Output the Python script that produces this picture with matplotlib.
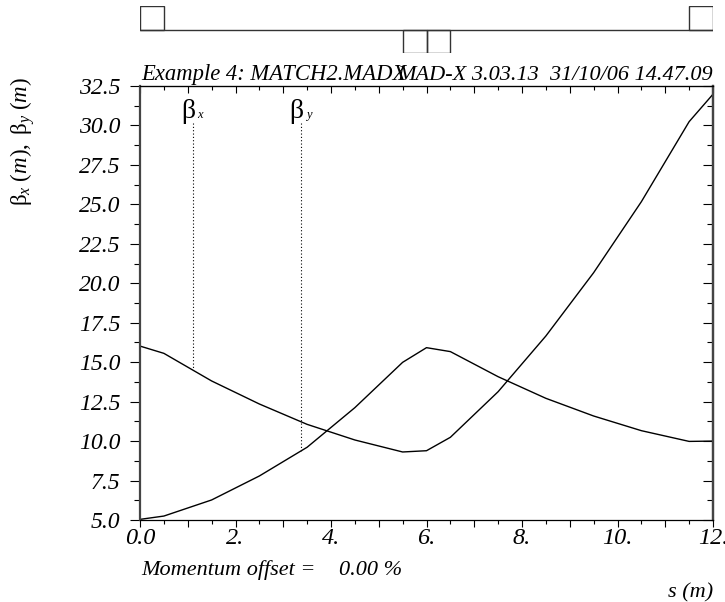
import matplotlib
matplotlib.use("Agg")
import matplotlib.pyplot as plt
import numpy as np
from matplotlib.patches import Rectangle
from matplotlib.ticker import MultipleLocator

plt.rcParams['font.family'] = 'Liberation Serif'
plt.rcParams['font.style'] = 'italic'
plt.rcParams['mathtext.fontset'] = 'custom'
plt.rcParams['mathtext.rm'] = 'Liberation Serif:roman'
plt.rcParams['mathtext.it'] = 'Liberation Serif:italic'

# twiss output at element ends
s = [0.0, 0.5, 1.5, 2.5, 3.5, 4.5, 5.5, 6.0, 6.5, 7.5, 8.5, 9.5, 10.5, 11.5, 12.0]
betx = [16.02, 15.56, 13.81, 12.35, 11.06, 10.07, 9.31, 9.39, 10.24, 13.13,
        16.66, 20.67, 25.17, 30.24, 31.98]
bety = [5.04, 5.25, 6.27, 7.79, 9.61, 12.12, 14.99, 15.92, 15.67, 14.08,
        12.71, 11.59, 10.66, 9.98, 10.0]

# quadrupoles: start, length, focusing sign
quad_start = [0.0, 5.5, 6.0, 11.5]
quad_len = [0.5, 0.5, 0.5, 0.5]
quad_sign = [1, -1, -1, 1]

# curve label positions (s where the dotted pointer sits)
lab_s = {'x': 1.116, 'y': 3.38}

W, H = 725, 602
fig = plt.figure(figsize=(W / 100, H / 100), dpi=100)

x0, x1 = 140, 713
y0, y1 = 86, 520
ax = fig.add_axes([x0 / W, 1 - y1 / H, (x1 - x0) / W, (y1 - y0) / H])

ax.plot(s, betx, color='k', lw=1.0)
ax.plot(s, bety, color='k', lw=1.0)

ax.set_xlim(0, 12)
ax.set_ylim(5, 32.5)

ax.xaxis.set_major_locator(MultipleLocator(1))
ax.xaxis.set_minor_locator(MultipleLocator(0.5))
ax.yaxis.set_major_locator(MultipleLocator(2.5))
ax.yaxis.set_minor_locator(MultipleLocator(1.25))
ax.set_xticklabels([('0.0' if v == 0 else f'{int(v)}.') if v % 2 == 0 else ''
                    for v in ax.get_xticks()])
ax.set_yticklabels([f'{v:.1f}' for v in ax.get_yticks()])

ax.tick_params(axis='x', which='major', direction='out', length=5, width=0.8,
               labelsize=17.5, pad=1.0)
ax.tick_params(axis='x', which='minor', direction='out', length=3, width=0.8)
ax.tick_params(axis='y', which='major', direction='out', length=7, width=0.8,
               labelsize=17, pad=7)
ax.tick_params(axis='y', which='minor', direction='out', length=4, width=0.8)

for side in ['left', 'right']:
    ax.spines[side].set_linewidth(1.6)
    ax.spines[side].set_color('#444444')
ax.spines['top'].set_linewidth(0.9)
ax.spines['bottom'].set_linewidth(0.9)

# mirrored ticks on top and right, pointing inwards
top = ax.secondary_xaxis('top')
top.xaxis.set_major_locator(MultipleLocator(1))
top.xaxis.set_minor_locator(MultipleLocator(0.5))
top.tick_params(which='major', direction='in', length=5, width=0.8, labeltop=False)
top.tick_params(which='minor', direction='in', length=3, width=0.8)
right = ax.secondary_yaxis('right')
right.yaxis.set_major_locator(MultipleLocator(2.5))
right.yaxis.set_minor_locator(MultipleLocator(1.25))
right.tick_params(which='major', direction='in', length=7, width=0.8, labelright=False)
right.tick_params(which='minor', direction='in', length=4, width=0.8)
right.spines['right'].set_linewidth(1.6)
right.spines['right'].set_color('#444444')

# curve labels with dotted pointers
for key, yv in [('x', betx), ('y', bety)]:
    sl = lab_s[key]
    ax.plot([sl, sl], [30.15, np.interp(sl, s, yv)], color='k', lw=0.8,
            ls=(0, (1, 2)))
    ax.text(sl - 0.25, 30.45, 'β', fontsize=20, style='normal',
            ha='left', va='baseline')
    ax.text(sl + 0.09, 30.5, key, fontsize=9, ha='left', va='baseline')

# lattice sketch above the plot
lat = fig.add_axes([x0 / W, 1 - 53 / H, (x1 - x0) / W, 47 / H])
lat.set_xlim(0, 12)
lat.set_ylim(-1, 1)
lat.axis('off')
lat.plot([0, 12], [0, 0], color='#333333', lw=1.0)
for st, ln, sg in zip(quad_start, quad_len, quad_sign):
    lat.add_patch(Rectangle((st, 0 if sg > 0 else -1), ln, 1, fill=False,
                            edgecolor='#333333', lw=1.0))

# header and footer texts
fig.text(141 / W, 1 - 80 / H, 'Example 4: MATCH2.MADX', fontsize=16.3,
         ha='left', va='baseline')
fig.text(713 / W, 1 - 80 / H, 'MAD-X 3.03.13  31/10/06 14.47.09', fontsize=16,
         ha='right', va='baseline')
fig.text(141 / W, 1 - 575 / H, 'Momentum offset =', fontsize=16,
         ha='left', va='baseline')
fig.text(339 / W, 1 - 575 / H, '0.00 %', fontsize=16,
         ha='left', va='baseline')
fig.text(713 / W, 1 - 597 / H, 's (m)', fontsize=16,
         ha='right', va='baseline')
fig.text(23 / W, 1 - 141 / H,
         r'$\mathrm{\beta}_{\mathit{x}}\ \mathit{(m)},\ \mathrm{\beta}_{\mathit{y}}\ \mathit{(m)}$',
         fontsize=16.5, rotation=90, ha='center', va='center')

fig.savefig('out.png', dpi=100)
